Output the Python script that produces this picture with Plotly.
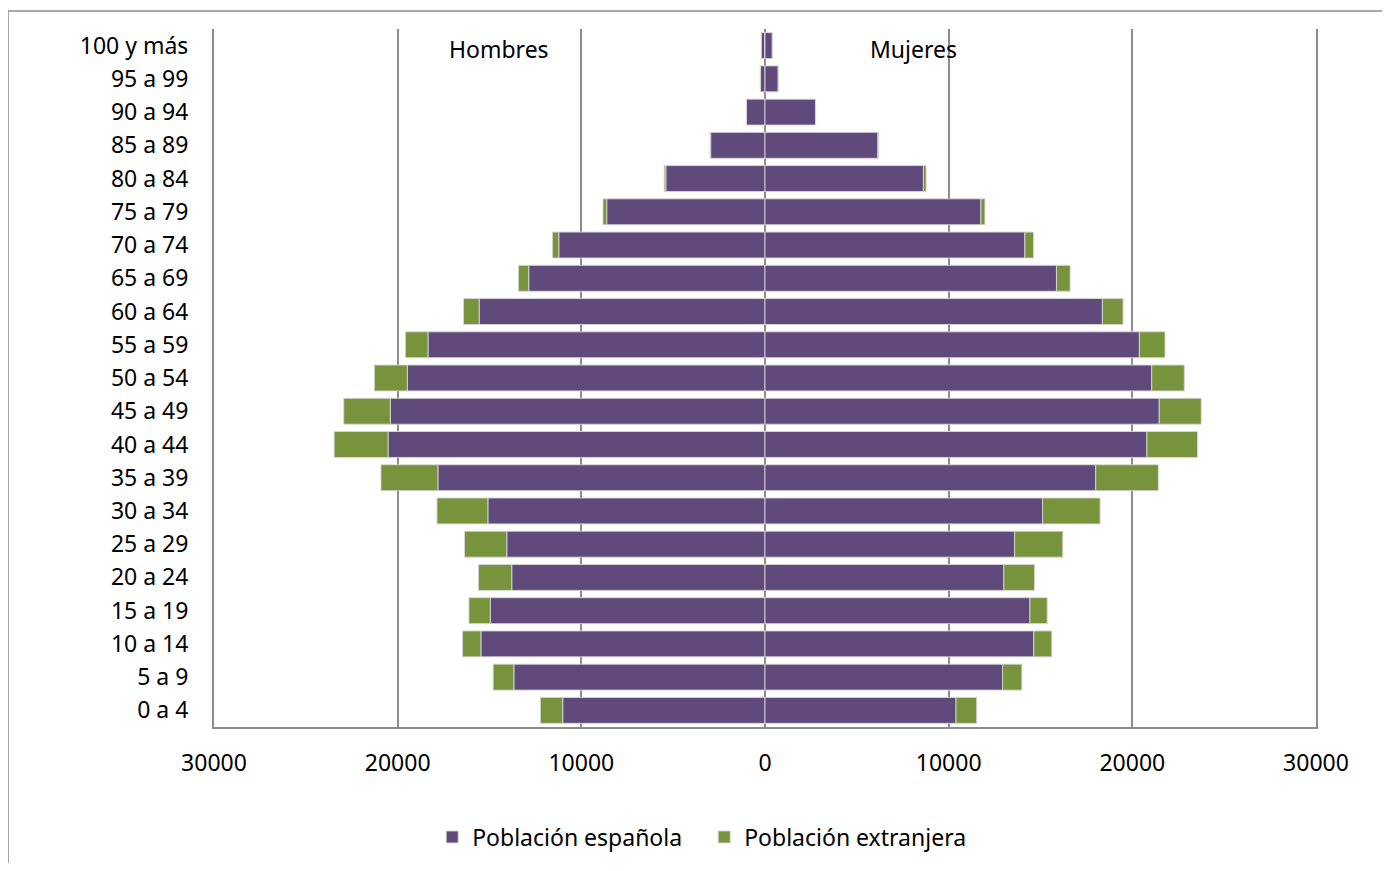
import plotly.graph_objects as go

grupos = ["0 a 4", "5 a 9", "10 a 14", "15 a 19", "20 a 24", "25 a 29", "30 a 34",
          "35 a 39", "40 a 44", "45 a 49", "50 a 54", "55 a 59", "60 a 64", "65 a 69",
          "70 a 74", "75 a 79", "80 a 84", "85 a 89", "90 a 94", "95 a 99", "100 y más"]

hombres_espanoles = [11015, 13675, 15470, 14960, 13790, 14060, 15090, 17810, 20525, 20400,
                     19475, 18350, 15565, 12865, 11230, 8620, 5400, 2960, 1010, 250, 200]
hombres_extranjeros = [1215, 1125, 1000, 1160, 1810, 2300, 2770, 3100, 2935, 2535,
                       1795, 1230, 850, 560, 345, 200, 90, 30, 5, 5, 0]
mujeres_espanolas = [10400, 12935, 14635, 14425, 13005, 13590, 15110, 18005, 20795, 21465,
                     21055, 20385, 18370, 15870, 14150, 11755, 8625, 6140, 2750, 720, 400]
mujeres_extranjeras = [1125, 1050, 980, 940, 1670, 2625, 3135, 3410, 2755, 2285,
                       1775, 1395, 1125, 745, 470, 220, 145, 40, 5, 5, 0]

tick_vals = [-30000, -20000, -10000, 0, 10000, 20000, 30000]
tick_text = ["30000", "20000", "10000", "0", "10000", "20000", "30000"]

PURPLE = "#604A7B"
GREEN = "#77933C"
EDGE = "rgba(215,215,215,0.9)"
GRID = "#8C8C8C"
FONT = "Noto Sans"

fig = go.Figure()
fig.add_trace(go.Bar(y=grupos, x=[-v for v in hombres_espanoles], orientation="h",
                     name="Población española", legendgroup="esp", showlegend=True,
                     marker=dict(color=PURPLE, line=dict(color=EDGE, width=1))))
fig.add_trace(go.Bar(y=grupos, x=[-v for v in hombres_extranjeros], orientation="h",
                     name="Población extranjera", legendgroup="ext", showlegend=True,
                     marker=dict(color=GREEN, line=dict(color=EDGE, width=1))))
fig.add_trace(go.Bar(y=grupos, x=mujeres_espanolas, orientation="h",
                     name="Población española", legendgroup="esp", showlegend=False,
                     marker=dict(color=PURPLE, line=dict(color=EDGE, width=1))))
fig.add_trace(go.Bar(y=grupos, x=mujeres_extranjeras, orientation="h",
                     name="Población extranjera", legendgroup="ext", showlegend=False,
                     marker=dict(color=GREEN, line=dict(color=EDGE, width=1))))

fig.update_layout(
    width=1374, height=855,
    barmode="relative", bargap=0.22,
    paper_bgcolor="white", plot_bgcolor="white",
    margin=dict(l=206, r=66, t=21, b=136),
    font=dict(family=FONT, size=23, color="black"),
    legend=dict(orientation="h", x=0.198, xanchor="left", xref="paper",
                y=0.0304, yanchor="middle", yref="container",
                font=dict(family=FONT, size=23), traceorder="normal",
                itemwidth=30, entrywidth=227, entrywidthmode="pixels"),
    xaxis=dict(range=[-30000, 30000], tickvals=tick_vals, ticktext=tick_text,
               showgrid=True, gridcolor=GRID, gridwidth=2,
               zeroline=True, zerolinecolor=GRID, zerolinewidth=2,
               showline=True, linecolor=GRID, linewidth=2, automargin=False,
               ticks="", ticklabelstandoff=14, tickfont=dict(size=23)),
    yaxis=dict(categoryorder="array", categoryarray=grupos,
               showgrid=False, showline=True, mirror=True, linecolor=GRID, linewidth=2,
               automargin=False,
               ticks="", ticklabelstandoff=19, tickfont=dict(size=23)),
    annotations=[
        dict(text="Hombres", xref="paper", yref="paper", x=0.2586, y=0.971,
             xanchor="center", yanchor="middle", showarrow=False, font=dict(size=23)),
        dict(text="Mujeres", xref="paper", yref="paper", x=0.635, y=0.971,
             xanchor="center", yanchor="middle", showarrow=False, font=dict(size=23)),
    ],
    shapes=[
        dict(type="line", xref="paper", yref="paper", x0=-0.1869, x1=1.08, y0=1.0258, y1=1.0258,
             line=dict(color=GRID, width=1.5)),
        dict(type="line", xref="paper", yref="paper", x0=-0.1869, x1=-0.1869, y0=1.0258, y1=-0.25,
             line=dict(color=GRID, width=1.5)),
    ],
)

fig.write_html("out.html")
